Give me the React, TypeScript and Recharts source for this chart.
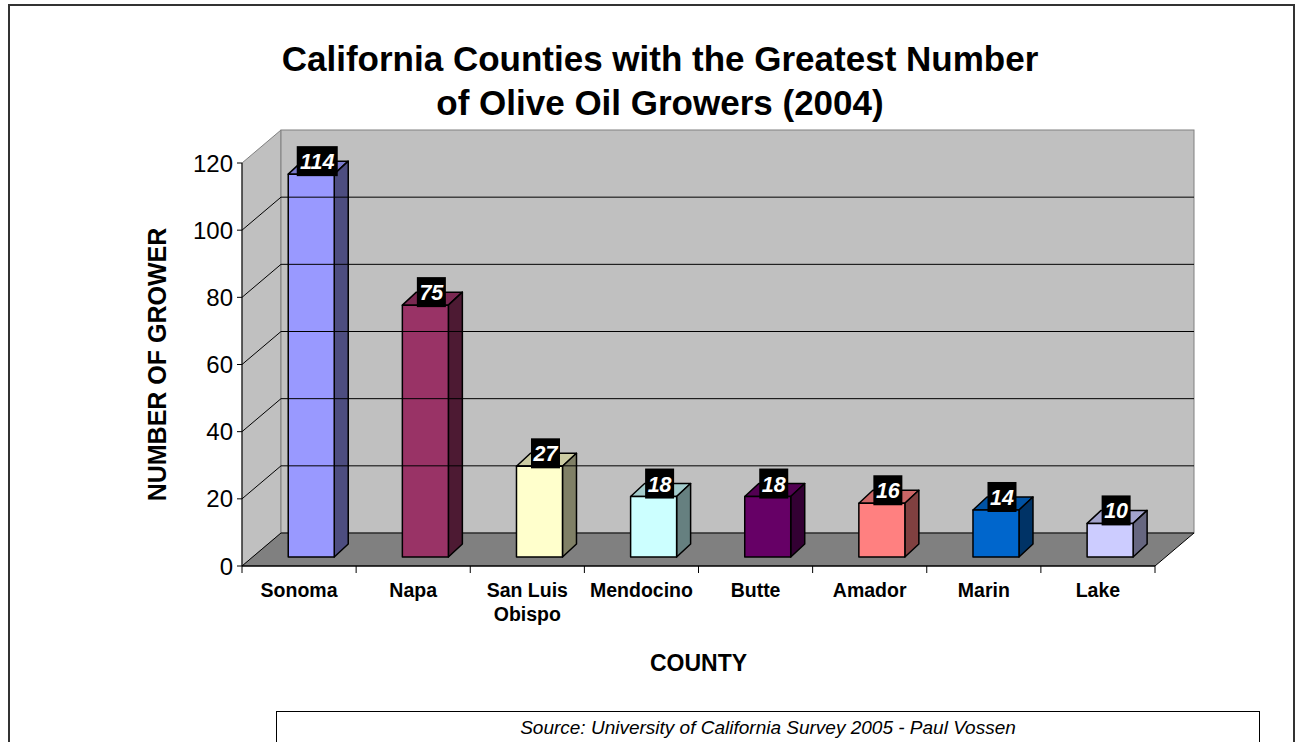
import {
  BarChart,
  Bar,
  XAxis,
  YAxis,
  ReferenceArea,
  ReferenceLine,
  Cell,
  LabelList,
} from "recharts";

const COUNTIES = [
  "Sonoma",
  "Napa",
  "San Luis Obispo",
  "Mendocino",
  "Butte",
  "Amador",
  "Marin",
  "Lake",
];
const GROWERS = [114, 75, 27, 18, 18, 16, 14, 10];
const BAR_COLORS = [
  "#9999FF",
  "#993366",
  "#FFFFCC",
  "#CCFFFF",
  "#660066",
  "#FF8080",
  "#0066CC",
  "#CCCCFF",
];
const Y_TICKS = [0, 20, 40, 60, 80, 100, 120];

const data = COUNTIES.map((county, i) => ({ county, growers: GROWERS[i] }));

const FONT = "Arial, 'Liberation Sans', sans-serif";

// fake 3D: wall depth, bar offset into the floor, and bar depth
const WALL_DX = 39;
const WALL_DY = 33;
const BAR_SX = 12;
const BAR_SY = 9;
const BAR_DX = 14;
const BAR_DY = 13;

function shade(hex: string, f: number) {
  const n = parseInt(hex.slice(1), 16);
  const r = Math.round(((n >> 16) & 255) * f);
  const g = Math.round(((n >> 8) & 255) * f);
  const b = Math.round((n & 255) * f);
  return `rgb(${r},${g},${b})`;
}

function Walls(props: any) {
  const { x, y, width, height } = props;
  const b = y + height;
  return (
    <g>
      <polygon
        points={`${x},${b} ${x},${y} ${x + WALL_DX},${y - WALL_DY} ${x + WALL_DX},${b - WALL_DY}`}
        fill="#c0c0c0"
        stroke="#808080"
      />
      <rect
        x={x + WALL_DX}
        y={y - WALL_DY}
        width={width}
        height={height}
        fill="#c0c0c0"
        stroke="#808080"
      />
      <polygon
        points={`${x},${b} ${x + width},${b} ${x + width + WALL_DX},${b - WALL_DY} ${x + WALL_DX},${b - WALL_DY}`}
        fill="#808080"
        stroke="#000"
      />
    </g>
  );
}

// grid line bent along the left wall and back wall
function GridLine(props: any) {
  const { x1, y1, x2 } = props;
  return (
    <polyline
      points={`${x1},${y1} ${x1 + WALL_DX},${y1 - WALL_DY} ${x2 + WALL_DX},${y1 - WALL_DY}`}
      fill="none"
      stroke="#000"
      strokeWidth={1}
    />
  );
}

function Bar3D(props: any) {
  const { x, y, width, height, fill } = props;
  const fx = x + BAR_SX;
  const fy = y - BAR_SY;
  const w = width;
  const h = height;
  const edge = { stroke: "#000", strokeWidth: 1.5, strokeLinejoin: "round" as const };
  return (
    <g>
      <polygon
        points={`${fx},${fy} ${fx + BAR_DX},${fy - BAR_DY} ${fx + w + BAR_DX},${fy - BAR_DY} ${fx + w},${fy}`}
        fill={shade(fill, 0.8)}
        {...edge}
      />
      <polygon
        points={`${fx + w},${fy} ${fx + w + BAR_DX},${fy - BAR_DY} ${fx + w + BAR_DX},${fy + h - BAR_DY} ${fx + w},${fy + h}`}
        fill={shade(fill, 0.5)}
        {...edge}
      />
      <rect x={fx} y={fy} width={w} height={h} fill={fill} {...edge} />
    </g>
  );
}

function ValueTag(props: any) {
  const vb = props.viewBox ?? props;
  const { x, y, width } = vb;
  const value = props.value;
  const cx = x + BAR_SX + width / 2 + 6;
  const cy = y - BAR_SY - 13;
  const w = String(value).length * 12 + 5;
  return (
    <g>
      <rect x={cx - w / 2} y={cy - 15} width={w} height={30} fill="#000" />
      <text
        x={cx}
        y={cy + 8}
        textAnchor="middle"
        fill="#fff"
        fontSize={21.5}
        fontWeight="bold"
        fontStyle="italic"
        fontFamily={FONT}
      >
        {value}
      </text>
    </g>
  );
}

function wrapWords(s: string, max: number) {
  const lines: string[] = [];
  let cur = "";
  for (const word of s.split(" ")) {
    if (cur && (cur + " " + word).length > max) {
      lines.push(cur);
      cur = word;
    } else {
      cur = cur ? cur + " " + word : word;
    }
  }
  if (cur) lines.push(cur);
  return lines;
}

function CountyTick(props: any) {
  const { x, y, payload, width, index } = props;
  const half =
    payload.offset > 0 ? payload.offset : width / COUNTIES.length / 2;
  const lines = wrapWords(String(payload.value), 9);
  return (
    <g>
      <line x1={x - half} y1={y} x2={x - half} y2={y + 7} stroke="#000" />
      {index === COUNTIES.length - 1 && (
        <line x1={x + half} y1={y} x2={x + half} y2={y + 7} stroke="#000" />
      )}
      <text
        x={x}
        y={y + 31}
        textAnchor="middle"
        fontSize={19.5}
        fontWeight="bold"
        fontFamily={FONT}
        fill="#000"
      >
        {lines.map((l, i) => (
          <tspan key={i} x={x} dy={i === 0 ? 0 : 24}>
            {l}
          </tspan>
        ))}
      </text>
    </g>
  );
}

export default function App() {
  return (
    <div
      style={{
        position: "absolute",
        left: 0,
        top: 0,
        width: 1296,
        height: 742,
        overflow: "hidden",
        background: "#fff",
        fontFamily: FONT,
      }}
    >
      <div
        style={{
          position: "absolute",
          left: 8,
          top: 4,
          width: 1283,
          height: 800,
          border: "2px solid #333",
        }}
      />
      <div
        style={{
          position: "absolute",
          left: 160,
          top: 37,
          width: 1000,
          textAlign: "center",
          fontSize: 35,
          fontWeight: "bold",
          lineHeight: "44px",
          color: "#000",
        }}
      >
        California Counties with the Greatest Number
        <br />
        of Olive Oil Growers (2004)
      </div>
      <div style={{ position: "absolute", left: 0, top: 0 }}>
        <BarChart
          width={1296}
          height={742}
          data={data}
          margin={{ top: 163, right: 141, bottom: 66, left: 142 }}
          barCategoryGap="30%"
        >
          <ReferenceArea y1={0} y2={120} shape={Walls} ifOverflow="visible" />
          {Y_TICKS.slice(1, -1).map((v) => (
            <ReferenceLine
              key={v}
              y={v}
              shape={GridLine}
              ifOverflow="visible"
            />
          ))}
          <XAxis
            dataKey="county"
            interval={0}
            height={110}
            tickLine={false}
            tickSize={0}
            tickMargin={0}
            axisLine={{ stroke: "#000" }}
            tick={CountyTick}
            label={{
              value: "COUNTY",
              position: "insideBottom",
              offset: 5,
              style: {
                fontSize: 23,
                fontWeight: "bold",
                fontFamily: FONT,
                fill: "#000",
              },
            }}
          />
          <YAxis
            type="number"
            domain={[0, 120]}
            ticks={Y_TICKS}
            width={100}
            tickSize={5}
            tickMargin={4}
            axisLine={{ stroke: "#000" }}
            tickLine={{ stroke: "#000" }}
            tick={{ fill: "#000", fontSize: 24, fontFamily: FONT }}
            label={{
              value: "NUMBER OF GROWER",
              angle: -90,
              position: "insideLeft",
              offset: 15,
              style: {
                textAnchor: "middle",
                fontSize: 25,
                fontWeight: "bold",
                fontFamily: FONT,
                fill: "#000",
              },
            }}
          />
          <Bar dataKey="growers" shape={Bar3D} isAnimationActive={false}>
            {data.map((d, i) => (
              <Cell key={d.county} fill={BAR_COLORS[i]} />
            ))}
            <LabelList dataKey="growers" content={ValueTag} />
          </Bar>
        </BarChart>
      </div>
      <div
        style={{
          position: "absolute",
          left: 276,
          top: 711,
          width: 984,
          height: 60,
          border: "1.5px solid #000",
          boxSizing: "border-box",
          paddingTop: 5,
          textAlign: "center",
          fontSize: 19,
          fontStyle: "italic",
          lineHeight: "22px",
          color: "#000",
        }}
      >
        Source: University of California Survey 2005 - Paul Vossen
      </div>
    </div>
  );
}
